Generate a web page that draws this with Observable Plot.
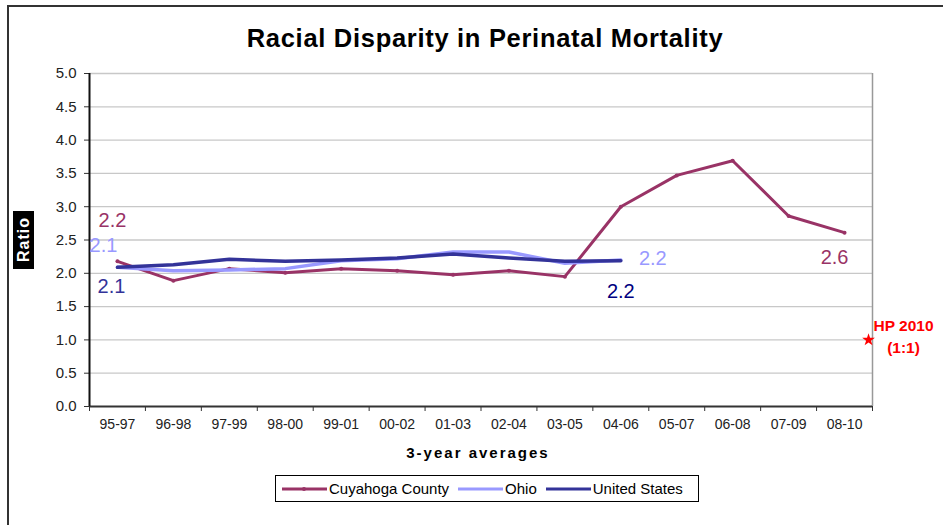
<!DOCTYPE html>
<html><head><meta charset="utf-8">
<script src="https://cdn.jsdelivr.net/npm/d3@7"></script>
<script src="https://cdn.jsdelivr.net/npm/@observablehq/plot@0.6"></script>
<style>
body{margin:0;background:#fff;font-family:"Liberation Sans",Arial,sans-serif;overflow:hidden}
#wrap{position:relative;width:943px;height:525px;overflow:hidden;background:#fff}
#frame{position:absolute;left:7px;top:5px;width:1000px;height:600px;border-left:2px solid #333;border-top:2px solid #333;pointer-events:none}
#chart{position:absolute;left:0;top:0}
#title{position:absolute;left:0;width:970px;top:24px;text-align:center;font-weight:bold;font-size:25.5px;letter-spacing:0.7px;color:#000}
#ylab{position:absolute;left:13px;top:211px;width:21px;height:58px;background:#000;color:#fff;font-weight:bold;font-size:16px;writing-mode:vertical-rl;transform:rotate(180deg);display:flex;align-items:center;justify-content:center;letter-spacing:1px}
#xlab{position:absolute;left:0;width:956px;top:444px;text-align:center;font-weight:bold;font-size:15px;letter-spacing:2px}
#legend{position:absolute;left:275px;top:475px;width:424px;height:27px;border:1px solid #000;font-size:15px;display:flex;align-items:center;box-sizing:border-box;padding-left:6px}
#legend .it{display:flex;align-items:center;margin-right:9px}
#legend svg{margin-right:2px}
</style></head>
<body>
<div id="wrap">
  <div id="chart"></div>
  <div id="title">Racial Disparity in Perinatal Mortality</div>
  <div id="ylab">Ratio</div>
  <div id="xlab">3-year averages</div>
  <div id="legend"></div>
  <div id="frame"></div>
</div>
<script>
const categories = ["95-97","96-98","97-99","98-00","99-01","00-02","01-03","02-04","03-05","04-06","05-07","06-08","07-09","08-10"];
const cuyahoga = [2.18,1.89,2.07,2.01,2.07,2.04,1.98,2.04,1.95,3.00,3.47,3.69,2.86,2.61];
const ohio = [2.09,2.04,2.05,2.07,2.19,2.22,2.32,2.32,2.15,2.20];
const unitedStates = [2.09,2.13,2.21,2.18,2.20,2.23,2.29,2.23,2.18,2.19];
const yTicks = [0,0.5,1,1.5,2,2.5,3,3.5,4,4.5,5];
const seriesNames = ["Cuyahoga County","Ohio","United States"];
const seriesColors = ["#993366","#9999FF","#333399"];
const hpTarget = 1.0;
const hpLabel = "HP 2010\n(1:1)";

const toRows = (vals, name) => vals.map((v, i) => ({i, v, name}));
const cRows = toRows(cuyahoga, seriesNames[0]);
const oRows = toRows(ohio, seriesNames[1]);
const uRows = toRows(unitedStates, seriesNames[2]);
const n = categories.length;
const idx = d3.range(n);
const bounds = d3.range(n + 1).map(i => i - 0.5);
const fmt = v => v.toFixed(1);
const lbl = {fontFamily: "Liberation Sans, Arial, sans-serif", fontSize: 20, letterSpacing: 0.8, text: d => fmt(d.v)};

const plot = Plot.plot({
  width: 943, height: 525,
  marginLeft: 89, marginRight: 71, marginTop: 73, marginBottom: 119,
  style: {fontFamily: "Liberation Sans, Arial, sans-serif", background: "transparent", overflow: "visible"},
  x: {type: "linear", domain: [-0.5, n - 0.5], axis: null},
  y: {domain: [0, 5], axis: null},
  marks: [
    Plot.gridY(yTicks.slice(1), {stroke: "#c8c8c8", strokeOpacity: 1, strokeWidth: 1.3}),
    Plot.ruleX([n - 0.5], {stroke: "#999", strokeWidth: 1.5}),
    Plot.axisY(yTicks, {tickFormat: d => d.toFixed(1), tickSize: 5, tickPadding: 8, fontSize: 15, letterSpacing: 0.3, stroke: "#333", fill: "#222", label: null}),
    Plot.axisX(idx, {tickFormat: i => categories[i], tickSize: 0, tickPadding: 13, fontSize: 14, fill: "#222", label: null, letterSpacing: 0.8}),
    Plot.axisX(bounds, {tickFormat: () => "", tickSize: 5, stroke: "#333", label: null}),
    Plot.ruleY([0], {stroke: "#333", strokeWidth: 2}),
    Plot.ruleX([-0.5], {stroke: "#111", strokeWidth: 2}),
    Plot.line(cRows, {x: "i", y: "v", stroke: seriesColors[0], strokeWidth: 3}),
    Plot.dot(cRows, {x: "i", y: "v", r: 2, fill: seriesColors[0]}),
    Plot.line(oRows, {x: "i", y: "v", stroke: seriesColors[1], strokeWidth: 3.5}),
    Plot.line(uRows, {x: "i", y: "v", stroke: seriesColors[2], strokeWidth: 3.5}),
    Plot.text(cRows.filter(d => d.i === 0), {x: "i", y: "v", ...lbl, fill: seriesColors[0], dx: -5, dy: -41}),
    Plot.text(oRows.filter(d => d.i === 0), {x: "i", y: "v", ...lbl, fill: seriesColors[1], dx: -14, dy: -22}),
    Plot.text(uRows.filter(d => d.i === 0), {x: "i", y: "v", ...lbl, fill: seriesColors[2], dx: -6, dy: 19}),
    Plot.text(oRows.filter(d => d.i === oRows.length - 1), {x: "i", y: "v", ...lbl, fill: seriesColors[1], dx: 32, dy: -1}),
    Plot.text(uRows.filter(d => d.i === uRows.length - 1), {x: "i", y: "v", ...lbl, fill: "#000080", dx: 0, dy: 31}),
    Plot.text(cRows.filter(d => d.i === n - 1), {x: "i", y: "v", ...lbl, fill: seriesColors[0], dx: -10, dy: 25}),
    Plot.dot([{i: n - 1, v: hpTarget}], {x: "i", y: "v", dx: 24, symbol: "star", r: 4, fill: "#ff0000", stroke: "none"}),
    Plot.text([{i: n - 1, v: hpTarget}], {x: "i", y: "v", text: () => hpLabel, dx: 59, dy: -5, fill: "#ff0000", fontWeight: "bold", fontSize: 15.5, lineHeight: 1.45})
  ]
});
document.getElementById("chart").appendChild(plot);

const legend = document.getElementById("legend");
seriesNames.forEach((name, k) => {
  const it = document.createElement("div");
  it.className = "it";
  const marker = k === 0 ? `<circle cx="22" cy="7" r="2" fill="${seriesColors[k]}"/>` : "";
  it.innerHTML = `<svg width="45" height="14"><line x1="0" x2="45" y1="7" y2="7" stroke="${seriesColors[k]}" stroke-width="3"/>${marker}</svg><span>${name}</span>`;
  legend.appendChild(it);
});
</script>
</body></html>
